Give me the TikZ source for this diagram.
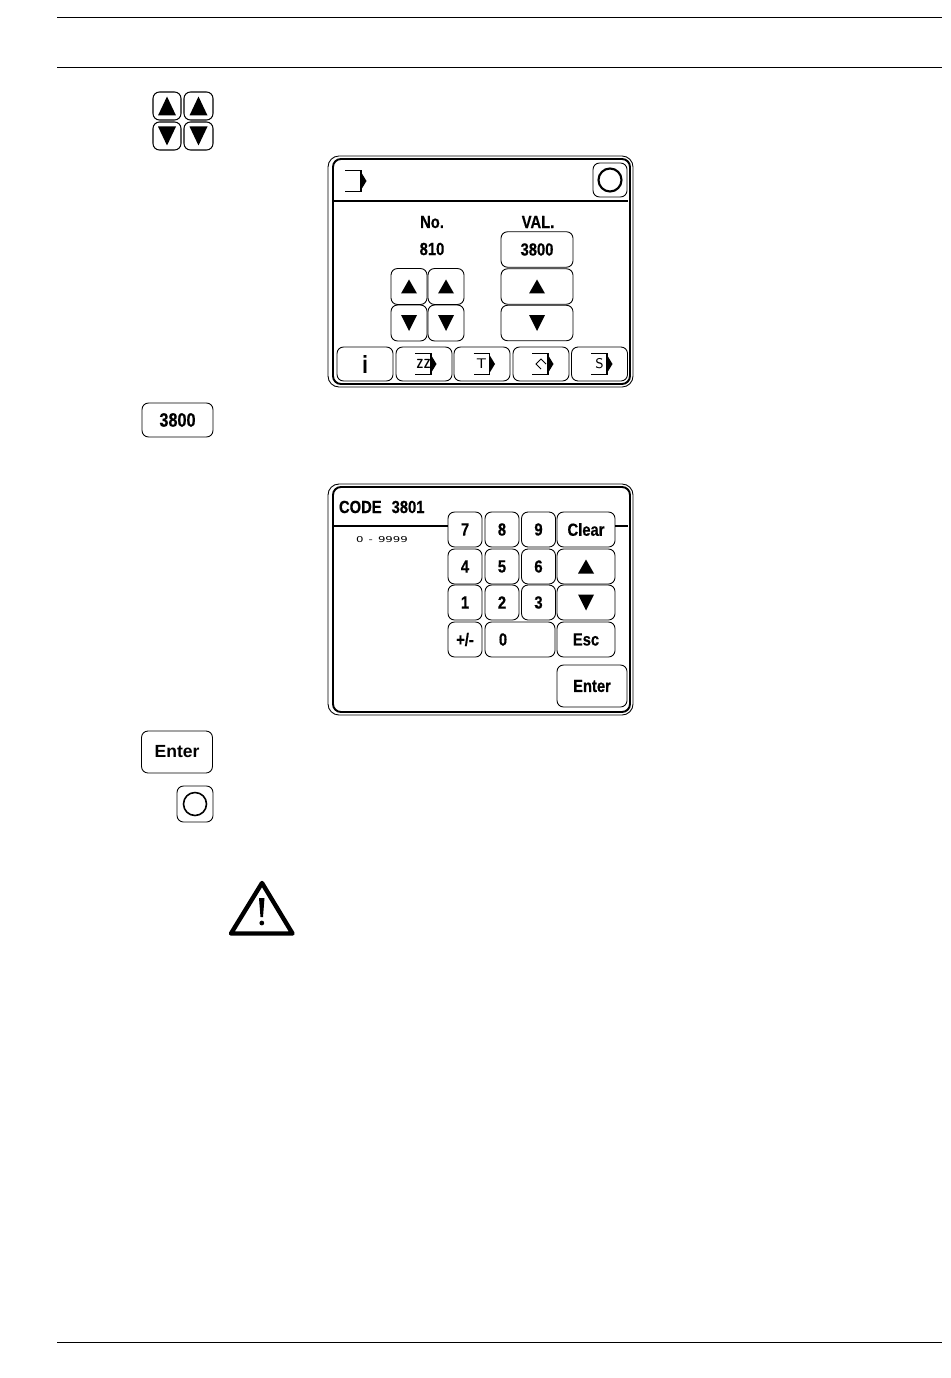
\documentclass[tikz,border=0pt]{standalone}
\usepackage{fontspec}
\newfontfamily\panelfont[FakeStretch=0.84,FakeBold=0.5]{Liberation Sans Bold}
\newfontfamily\plainfont{Liberation Sans Bold}
\newfontfamily\rangefont[FakeStretch=1.45]{DejaVu Sans}
\usetikzlibrary{positioning}
\tikzset{
  btn/.style={draw, line width=0.5pt, rounded corners=0.13cm, inner sep=0, outer sep=0, font=\panelfont\fontsize{10}{10}\selectfont},
  numkey/.style={btn, minimum width=0.68cm, minimum height=0.7cm},
  widekey/.style={btn, minimum width=1.16cm, minimum height=0.7cm},
  valkey/.style={btn, minimum width=1.44cm, minimum height=0.71cm},
  softkey/.style={btn, minimum width=1.12cm, minimum height=0.68cm},
  arrowkey/.style={btn, minimum width=0.72cm, minimum height=0.72cm},
  frameouter/.style={draw, line width=0.5pt, rounded corners=0.22cm},
  frameinner/.style={draw, line width=1.1pt, rounded corners=0.16cm},
  rule/.style={line width=0.5pt},
  headline/.style={line width=1.1pt},
  caption/.style={inner sep=0, outer sep=0, font=\panelfont\fontsize{10}{10}\selectfont},
  uptri/.pic={\fill (-8,7) -- (8,7) -- (0,-7) -- cycle;},
  downtri/.pic={\fill (-8,-8) -- (8,-8) -- (0,8) -- cycle;},
  bigup/.pic={\fill (-9,9.5) -- (9,9.5) -- (0,-9.5) -- cycle;},
  bigdown/.pic={\fill (-9,-9.5) -- (9,-9.5) -- (0,9.5) -- cycle;},
  tagicon/.pic={
    \draw[line width=1pt] (-16,-10.5) -- (0,-10.5) -- (0,10.5) -- (-16,10.5);
    \fill (0,-9) -- (5.5,0) -- (0,9) -- cycle;},
}
\begin{document}
\begin{tikzpicture}[x=0.02cm, y=-0.02cm]
  \useasboundingbox (0,0) rectangle (950,1378);

  % page rules
  \coordinate (ruleAl) at (57,17);  \coordinate (ruleAr) at (942,17);
  \coordinate (ruleBl) at (57,67);  \coordinate (ruleBr) at (942,67);
  \coordinate (ruleCl) at (57,1342); \coordinate (ruleCr) at (942,1342);
  \draw[rule] (ruleAl) -- (ruleAr);
  \draw[rule] (ruleBl) -- (ruleBr);
  \draw[rule] (ruleCl) -- (ruleCr);

  % keys in the left column
  \node[btn, minimum width=0.56cm, minimum height=0.56cm, line width=0.6pt] (upA) at (167,106) {};
  \node[btn, minimum width=0.58cm, minimum height=0.56cm, line width=0.6pt] (upB) at (198.5,106) {};
  \node[btn, minimum width=0.56cm, minimum height=0.56cm, line width=0.6pt] (downA) at (167,136) {};
  \node[btn, minimum width=0.58cm, minimum height=0.56cm, line width=0.6pt] (downB) at (198.5,136) {};
  \pic at (upA) {bigup};
  \pic at (upB) {bigup};
  \pic at (downA) {bigdown};
  \pic at (downB) {bigdown};

  \node[btn, minimum width=1.42cm, minimum height=0.68cm, font=\panelfont\fontsize{11}{11}\selectfont] (valueKey) at (177.5,420) {3800};
  \node[btn, minimum width=1.42cm, minimum height=0.84cm, font=\plainfont\fontsize{10}{10}\selectfont] (enterKey) at (177,752) {\raisebox{-0.5pt}{Enter}};
  \node[btn, minimum width=0.72cm, minimum height=0.72cm] (okKey) at (195,804) {};
  \draw[line width=0.9pt] (okKey) circle (11.5);

  % first panel
  \draw[frameouter] (328,156) rectangle (633,387);
  \draw[frameinner] (333,159) rectangle (630,384);
  \coordinate (headL) at (334,201); \coordinate (headR) at (628,201);
  \draw[headline] (headL) -- (headR);
  \pic at (361,181) {tagicon};
  \node[arrowkey, minimum width=0.68cm, minimum height=0.68cm] (panelOk) at (610,180) {};
  \draw[line width=1.2pt] (panelOk) circle (11.5);

  \node[caption] (noLabel) at (432,222) {No.};
  \node[caption] (noValue) at (432,249) {810};
  \node[caption] (valLabel) at (538,222) {VAL.};
  \node[valkey] (valBox) at (537,249.5) {3800};
  \node[valkey] (valUp) at (537,286.5) {};
  \node[valkey] (valDown) at (537,323) {};
  \pic at (valUp) {uptri};
  \pic at (valDown) {downtri};

  \node[arrowkey] (noUpA) at (409,286.5) {};
  \node[arrowkey] (noUpB) at (446,286.5) {};
  \node[arrowkey] (noDownA) at (409,323) {};
  \node[arrowkey] (noDownB) at (446,323) {};
  \pic at (noUpA) {uptri};
  \pic at (noUpB) {uptri};
  \pic at (noDownA) {downtri};
  \pic at (noDownB) {downtri};

  \node[softkey, font=\panelfont\fontsize{14}{14}\selectfont] (softInfo) at (365,364) {i};
  \node[softkey] (softZ) at (424,364) {};
  \node[softkey] (softT) at (482,364) {};
  \node[softkey] (softC) at (541,364) {};
  \node[softkey] (softS) at (599.5,364) {};
  \pic at (431,364) {tagicon};
  \pic at (489.5,364) {tagicon};
  \pic at (548,364) {tagicon};
  \pic at (607,364) {tagicon};
  \node[caption, font=\sffamily\bfseries\fontsize{7.5}{8}\selectfont, xscale=0.8] (iconZ) at (423.5,364) {ZZ};
  \node[caption, font=\sffamily\fontsize{8}{8}\selectfont] (iconT) at (481.5,364) {T};
  \node[caption, font=\sffamily\fontsize{8}{8}\selectfont] (iconS) at (599.5,364) {S};
  \draw[line width=0.5pt] (546,364) -- (541,359) -- (536,364) -- (541,369);

  % second panel
  \draw[frameouter] (328,484) rectangle (633,715);
  \draw[frameinner] (333,487) rectangle (630,712);
  \node[caption, anchor=west] (codeLabel) at (339,507) {CODE\hspace{0.2cm}3801};
  \node[inner sep=0, outer sep=0, font=\rangefont\fontsize{4.6}{5}\selectfont] (rangeLabel) at (382,540) {0 \,-\, 9999};

  \node[numkey] (keyA) at (465,529.5) {7};
  \node[numkey] (keyB) at (502,529.5) {8};
  \node[numkey] (keyC) at (538.5,529.5) {9};
  \node[widekey] (keyClear) at (586,529.5) {Clear};
  \node[numkey] (keyD) at (465,566.5) {4};
  \node[numkey] (keyE) at (502,566.5) {5};
  \node[numkey] (keyF) at (538.5,566.5) {6};
  \node[widekey] (keyUp) at (586,566.5) {};
  \node[numkey] (keyG) at (465,602.5) {1};
  \node[numkey] (keyH) at (502,602.5) {2};
  \node[numkey] (keyI) at (538.5,602.5) {3};
  \node[widekey] (keyDown) at (586,602.5) {};
  \node[numkey] (keySign) at (465,639.5) {+/-};
  \node[btn, minimum width=1.4cm, minimum height=0.7cm] (keyZero) at (520,639.5) {};
  \node[caption] (zeroLabel) at (503,639.5) {0};
  \node[widekey] (keyEsc) at (586,639.5) {Esc};
  \node[btn, minimum width=1.4cm, minimum height=0.84cm] (keyEnter) at (592,686) {Enter};
  \pic at (keyUp) {uptri};
  \pic at (keyDown) {downtri};

  \coordinate (codeL) at (334,526); \coordinate (codeR) at (628,526);
  \draw[line width=0.7pt] (codeL) -- (keyA.west |- codeL);
  \draw[line width=0.7pt] (keyClear.east |- codeR) -- (codeR);

  % warning sign
  \draw[line width=2.5pt, line join=round] (262,883) -- (231,933.5) -- (292.5,933.5) -- cycle;
  \fill (259,898) -- (264.5,898) -- (263,917) -- (260.5,917) -- cycle;
  \fill (261.8,923) circle (2.4);
\end{tikzpicture}
\end{document}
